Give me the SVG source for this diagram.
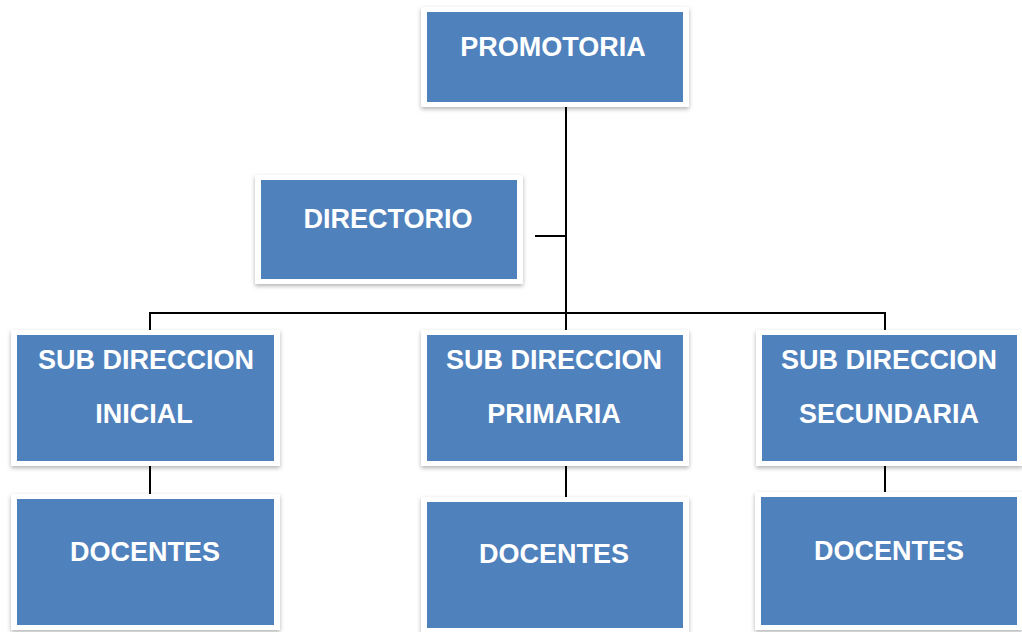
<svg xmlns="http://www.w3.org/2000/svg" width="1022" height="632" viewBox="0 0 1022 632">
<defs>
<filter id="sh" x="-10%" y="-10%" width="120%" height="125%">
<feDropShadow dx="0" dy="2" stdDeviation="2" flood-color="#000" flood-opacity="0.3"/>
</filter>
</defs>
<style>
.frame{fill:#FFFFFF;filter:url(#sh)}
.box{fill:#4F81BD}
.t{font-family:"Liberation Sans",Arial,sans-serif;font-weight:bold;font-size:27px;fill:#FFFFFF;text-anchor:middle}
.c{stroke:#000;stroke-width:2;fill:none}
</style>
<rect width="1022" height="632" fill="#FFFFFF"/>
<g id="connectors">
<path class="c" d="M566 103 V335"/>
<path class="c" d="M535 236 H566"/>
<path class="c" d="M150 335 V313 H885 V335"/>
<path class="c" d="M150 462 V499"/>
<path class="c" d="M566 462 V502"/>
<path class="c" d="M885 462 V497"/>
</g>
<g id="promotoria">
<rect class="frame" x="421" y="7" width="268" height="100"/>
<rect class="box" x="427" y="12" width="256" height="90"/>
<text class="t" x="553" y="56">PROMOTORIA</text>
</g>
<g id="directorio">
<rect class="frame" x="255" y="175" width="268" height="109"/>
<rect class="box" x="261" y="180" width="256" height="99"/>
<text class="t" x="388" y="228">DIRECTORIO</text>
</g>
<g id="sub-inicial">
<rect class="frame" x="11" y="330" width="269" height="136"/>
<rect class="box" x="17" y="335" width="257" height="126"/>
<text class="t" x="146" y="369">SUB DIRECCION</text>
<text class="t" x="144" y="423">INICIAL</text>
</g>
<g id="sub-primaria">
<rect class="frame" x="421" y="330" width="268" height="136"/>
<rect class="box" x="427" y="335" width="256" height="126"/>
<text class="t" x="554" y="369">SUB DIRECCION</text>
<text class="t" x="554" y="423">PRIMARIA</text>
</g>
<g id="sub-secundaria">
<rect class="frame" x="756" y="330" width="267" height="136"/>
<rect class="box" x="762" y="335" width="255" height="126"/>
<text class="t" x="889" y="369">SUB DIRECCION</text>
<text class="t" x="889" y="423">SECUNDARIA</text>
</g>
<g id="docentes-inicial">
<rect class="frame" x="11" y="494" width="269" height="136"/>
<rect class="box" x="17" y="499" width="257" height="126"/>
<text class="t" x="145" y="561">DOCENTES</text>
</g>
<g id="docentes-primaria">
<rect class="frame" x="421" y="497" width="268" height="136"/>
<rect class="box" x="427" y="502" width="256" height="126"/>
<text class="t" x="554" y="563">DOCENTES</text>
</g>
<g id="docentes-secundaria">
<rect class="frame" x="755" y="492" width="268" height="138"/>
<rect class="box" x="761" y="497" width="256" height="128"/>
<text class="t" x="889" y="560">DOCENTES</text>
</g>
</svg>
